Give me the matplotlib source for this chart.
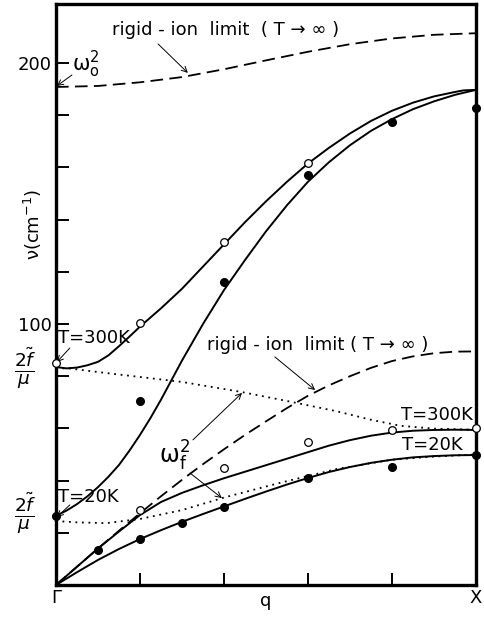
import matplotlib
matplotlib.use("Agg")
import matplotlib.pyplot as plt

plt.rcParams["font.family"] = ["DejaVu Sans"]
plt.rcParams["mathtext.fontset"] = "dejavusans"

# ── 読み取り値（q: Γ=0 … X=1, ν in cm^-1） ──
q_up300 = [0.0, 0.025, 0.05, 0.075, 0.1, 0.125, 0.15, 0.175, 0.2, 0.25, 0.3, 0.35, 0.4, 0.45, 0.5,
           0.55, 0.6, 0.65, 0.7, 0.75, 0.8, 0.85, 0.9, 0.95, 0.97, 1.0]
v_up300 = [83.5, 83.0, 83.3, 84.2, 85.5, 88.0, 91.5, 95.2, 99.0, 106.0, 113.5, 122.0, 130.5, 139.0, 147.0,
           154.5, 161.5, 167.5, 173.0, 177.8, 181.7, 184.8, 187.2, 188.9, 189.5, 189.7]

q_up20 = [0.0, 0.025, 0.05, 0.075, 0.1, 0.125, 0.15, 0.175, 0.2, 0.225, 0.25, 0.275, 0.3, 0.325, 0.35,
          0.375, 0.4, 0.45, 0.5, 0.55, 0.6, 0.65, 0.7, 0.75, 0.8, 0.85, 0.9, 0.95, 1.0]
v_up20 = [26.5, 28.5, 31.0, 34.0, 37.5, 41.5, 46.0, 51.5, 57.5, 64.0, 71.0, 78.5, 86.0, 93.0, 100.0,
          106.5, 113.0, 124.5, 135.5, 145.5, 154.5, 162.0, 168.5, 174.0, 178.5, 182.3, 185.3, 187.8, 189.7]

q_lo300 = [0.0, 0.05, 0.1, 0.15, 0.2, 0.25, 0.3, 0.35, 0.4, 0.45, 0.5, 0.55, 0.6, 0.65, 0.7, 0.75,
           0.8, 0.85, 0.9, 0.95, 1.0]
v_lo300 = [0.0, 7.0, 14.0, 20.5, 26.8, 31.8, 35.3, 38.2, 40.9, 43.4, 45.9, 48.4, 50.9, 53.4, 55.5, 57.2,
           58.4, 59.1, 59.4, 59.5, 59.4]

q_lo20 = [0.0, 0.05, 0.1, 0.15, 0.2, 0.25, 0.3, 0.35, 0.4, 0.45, 0.5, 0.55, 0.6, 0.65, 0.7, 0.75,
          0.8, 0.85, 0.9, 0.95, 1.0]
v_lo20 = [0.0, 4.9, 9.6, 13.8, 17.6, 21.0, 24.2, 27.2, 30.1, 33.0, 35.8, 38.5, 41.0, 43.3, 45.2, 46.8,
          48.0, 48.9, 49.4, 49.7, 49.8]

q_rig_top = [0.0, 0.1, 0.2, 0.3, 0.4, 0.5, 0.6, 0.7, 0.8, 0.9, 1.0]
v_rig_top = [190.8, 191.2, 192.6, 194.6, 197.6, 201.0, 204.3, 207.2, 209.4, 210.8, 211.4]

q_rig_lo = [0.0, 0.05, 0.1, 0.15, 0.2, 0.25, 0.3, 0.35, 0.4, 0.45, 0.5, 0.55, 0.6, 0.65, 0.7, 0.75,
            0.8, 0.85, 0.9, 0.95, 1.0]
v_rig_lo = [0.0, 7.0, 14.0, 20.8, 27.5, 34.0, 40.3, 46.3, 52.0, 57.5, 62.7, 67.8, 72.5, 76.5, 80.0, 83.2,
            85.8, 87.6, 88.8, 89.4, 89.5]

q_dot300 = [0.0, 0.03, 0.12, 0.2, 0.3, 0.44, 0.55, 0.67, 0.75, 0.82, 0.9, 1.0]
v_dot300 = [83.0, 83.0, 81.2, 79.7, 77.8, 74.0, 70.5, 66.5, 63.3, 61.0, 59.9, 59.5]

q_dot20 = [0.0, 0.05, 0.12, 0.2, 0.3, 0.4, 0.53, 0.67, 0.8, 0.9, 1.0]
v_dot20 = [24.5, 24.0, 23.7, 25.3, 28.7, 33.5, 39.0, 44.5, 48.0, 49.2, 50.0]

# 測定点（○: 300 K, ●: 20 K）
q_open = [0.0, 0.2, 0.4, 0.6, 0.2, 0.4, 0.6, 0.8, 1.0]
v_open = [85.0, 100.4, 131.4, 161.7, 28.7, 44.8, 54.8, 59.4, 60.2]
q_full = [0.0, 0.2, 0.4, 0.6, 0.8, 1.0, 0.1, 0.2, 0.3, 0.4, 0.6, 0.8, 1.0]
v_full = [26.5, 70.5, 116.0, 157.0, 177.4, 182.8, 13.4, 17.6, 23.8, 29.9, 41.0, 45.2, 49.8]

fig = plt.figure(figsize=(4.84, 6.17), dpi=100)
ax = fig.add_axes([56 / 484, 32 / 617, 420 / 484, 581 / 617])

FS = 13
solid = dict(color="k", lw=1.4)
ax.plot(q_up300, v_up300, **solid)
ax.plot(q_up20, v_up20, **solid)
ax.plot(q_lo300, v_lo300, **solid)
ax.plot(q_lo20, v_lo20, **solid)
ax.plot(q_rig_top, v_rig_top, color="k", lw=1.3, linestyle=(0, (7, 3.5)))
ax.plot(q_rig_lo, v_rig_lo, color="k", lw=1.3, linestyle=(0, (7, 3.5)))
ax.plot(q_dot300, v_dot300, color="k", lw=1.3, linestyle=(0, (1, 2.6)))
ax.plot(q_dot20, v_dot20, color="k", lw=1.3, linestyle=(0, (1, 2.6)))

ax.plot(q_open, v_open, "o", ms=5.5, mfc="white", mec="k", mew=0.9, clip_on=False, zorder=5)
ax.plot(q_full, v_full, "o", ms=5.5, color="k", clip_on=False, zorder=5)

ax.set_xlim(0, 1)
ax.set_ylim(0, 222.6)
for s in ax.spines.values():
    s.set_linewidth(2.4)

ax.set_xticks([0, 0.2, 0.4, 0.6, 0.8, 1.0])
ax.set_xticklabels(["Γ", "", "", "", "", "X"], fontsize=FS)
ax.set_yticks(range(0, 201, 20))
ax.set_yticklabels(["" if v not in (100, 200) else str(v) for v in range(0, 201, 20)], fontsize=FS)
ax.tick_params(direction="in", length=9, width=1.4, pad=3)
ax.text(0.5, -0.027, "q", transform=ax.transAxes, ha="center", va="center", fontsize=FS)

ax.annotate("ν(cm$^{-1}$)", xy=(-0.055, 138), xycoords=("axes fraction", "data"),
            rotation=90, ha="center", va="center", fontsize=FS, annotation_clip=False)
for yv in (83.1, 27.6):
    ax.annotate(r"$\frac{2\tilde{f}}{\mu}$", xy=(-0.074, yv), xycoords=("axes fraction", "data"),
                ha="center", va="center", fontsize=19, annotation_clip=False)

arr = dict(arrowstyle="->", lw=0.7, color="k", shrinkA=0, shrinkB=0)

ax.text(0.133, 212.6, "rigid - ion  limit  ( T → ∞ )", fontsize=FS, va="center", ha="left")
ax.annotate("", xy=(0.314, 196.2), xytext=(0.243, 207.3), arrowprops=arr)
ax.text(0.038, 199.5, r"$\mathrm{\omega}_\mathrm{o}^2$", fontsize=FS + 2, va="center", ha="left")
ax.annotate("", xy=(0.002, 191.2), xytext=(0.038, 195.4), arrowprops=arr)

ax.text(0.36, 92.0, "rigid - ion  limit ( T → ∞ )", fontsize=FS, va="center", ha="left")
ax.annotate("", xy=(0.617, 74.7), xytext=(0.521, 87.4), arrowprops=arr)

ax.text(0.245, 49.5, r"$\mathrm{\omega}_\mathrm{f}^2$", fontsize=FS + 4, va="center", ha="left")
ax.annotate("", xy=(0.443, 73.6), xytext=(0.326, 55.6), arrowprops=arr)
ax.annotate("", xy=(0.395, 33.3), xytext=(0.319, 42.9), arrowprops=arr)

ax.text(0.005, 94.6, "T=300K", fontsize=FS, va="center", ha="left")
ax.annotate("", xy=(0.002, 85.4), xytext=(0.033, 90.8), arrowprops=arr)
ax.text(0.005, 33.7, "T=20K", fontsize=FS, va="center", ha="left")
ax.annotate("", xy=(0.002, 26.0), xytext=(0.033, 30.7), arrowprops=arr)

ax.text(0.993, 65.1, "T=300K", fontsize=FS, va="center", ha="right")
ax.text(0.969, 53.6, "T=20K", fontsize=FS, va="center", ha="right")

fig.savefig("out.png", dpi=100)
